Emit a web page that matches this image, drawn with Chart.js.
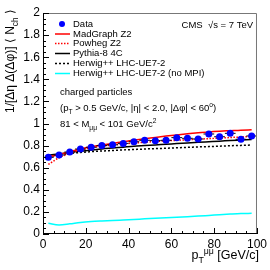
<!DOCTYPE html>
<html>
<head>
<meta charset="utf-8">
<script src="https://cdn.jsdelivr.net/npm/chart.js@4.4.1/dist/chart.umd.min.js"></script>
<style>
  html, body { margin: 0; padding: 0; background: #fff; }
  #wrap { width: 270px; height: 270px; }
</style>
</head>
<body>
<div id="wrap"><canvas id="chart" width="270" height="270"></canvas></div>
<script>
// bin centres in pT(mumu), GeV/c
const binCenters = [2.5, 7.5, 12.5, 17.5, 22.5, 27.5, 32.5, 37.5, 42.5, 47.5,
                    52.5, 57.5, 62.5, 67.5, 72.5, 77.5, 82.5, 87.5, 92.5, 97.5];
const binHalfWidth = 2.5;

const dataValues = [0.694, 0.715, 0.742, 0.769, 0.785, 0.800, 0.807, 0.820, 0.835, 0.848,
                    0.845, 0.848, 0.872, 0.866, 0.860, 0.905, 0.880, 0.911, 0.857, 0.887];
const madgraphZ2 = [0.700, 0.720, 0.745, 0.770, 0.790, 0.805, 0.820, 0.835, 0.850, 0.862,
                    0.874, 0.886, 0.897, 0.907, 0.916, 0.924, 0.930, 0.935, 0.940, 0.943];
const powhegZ2 = [0.630, 0.690, 0.730, 0.760, 0.780, 0.795, 0.805, 0.815, 0.823, 0.830,
                  0.837, 0.843, 0.848, 0.853, 0.858, 0.863, 0.868, 0.873, 0.878, 0.883];
const pythia84C = [0.712, 0.725, 0.738, 0.750, 0.760, 0.770, 0.778, 0.786, 0.794, 0.800,
                   0.806, 0.812, 0.818, 0.824, 0.830, 0.835, 0.840, 0.846, 0.851, 0.856];
const herwigUE72 = [0.700, 0.715, 0.728, 0.738, 0.745, 0.751, 0.756, 0.761, 0.765, 0.769,
                    0.773, 0.776, 0.780, 0.784, 0.788, 0.791, 0.795, 0.799, 0.802, 0.805];
const herwigNoMPI = [0.097, 0.082, 0.092, 0.105, 0.113, 0.118, 0.122, 0.127, 0.132, 0.137,
                     0.142, 0.147, 0.152, 0.157, 0.162, 0.168, 0.174, 0.180, 0.185, 0.187];

const xTicks = [0, 20, 40, 60, 80, 100];
const yTicks = [0, 0.2, 0.4, 0.6, 0.8, 1, 1.2, 1.4, 1.6, 1.8, 2];

const legendLabels = ["Data", "MadGraph Z2", "Powheg Z2", "Pythia-8 4C",
                      "Herwig++ LHC-UE7-2", "Herwig++ LHC-UE7-2 (no MPI)"];

const FONT = "'Liberation Sans', Arial, sans-serif";

function toPoints(vals) {
    return binCenters.map((x, i) => ({ x: x, y: vals[i] }));
}

function curve(label, vals, color, dash) {
    return {
        label: label,
        data: toPoints(vals),
        borderColor: color,
        backgroundColor: color,
        borderWidth: 1.5,
        borderDash: dash,
        pointRadius: 0,
        tension: 0.4,
        cubicInterpolationMode: 'monotone',
        fill: false
    };
}

// draws text made of pieces: [text, 'n' | 'sub' | 'sup']
function richText(ctx, pieces, x, y, size) {
    let cx = x;
    for (const [t, mode] of pieces) {
        let s = size, dy = 0;
        if (mode === 'sub') { s = size * 0.7; dy = size * 0.3; }
        if (mode === 'sup') { s = size * 0.7; dy = -size * 0.4; }
        ctx.font = s + "px " + FONT;
        ctx.fillText(t, cx, y + dy);
        cx += ctx.measureText(t).width;
    }
    return cx - x;
}
function richWidth(ctx, pieces, size) {
    let w = 0;
    for (const [t, mode] of pieces) {
        const s = mode === 'n' ? size : size * 0.7;
        ctx.font = s + "px " + FONT;
        w += ctx.measureText(t).width;
    }
    return w;
}

const errorBars = {
    id: 'errorBars',
    afterDatasetsDraw(chart) {
        const ctx = chart.ctx, xs = chart.scales.x, ys = chart.scales.y;
        ctx.save();
        ctx.strokeStyle = '#000';
        ctx.lineWidth = 1;
        binCenters.forEach((x, i) => {
            const py = ys.getPixelForValue(dataValues[i]);
            ctx.beginPath();
            ctx.moveTo(xs.getPixelForValue(x - binHalfWidth), py);
            ctx.lineTo(xs.getPixelForValue(x + binHalfWidth), py);
            ctx.stroke();
        });
        // redraw markers on top of bars
        ctx.fillStyle = '#0000ff';
        binCenters.forEach((x, i) => {
            ctx.beginPath();
            ctx.arc(xs.getPixelForValue(x), ys.getPixelForValue(dataValues[i]), 3.5, 0, Math.PI * 2);
            ctx.fill();
        });
        ctx.restore();
    }
};

const decorations = {
    id: 'decorations',
    afterDraw(chart) {
        const ctx = chart.ctx, a = chart.chartArea;
        const xs = chart.scales.x, ys = chart.scales.y;
        ctx.save();

        // frame
        ctx.lineWidth = 1;
        ctx.strokeStyle = '#777';
        ctx.beginPath();
        ctx.moveTo(a.left, a.top + 0.5); ctx.lineTo(a.right - 0.5, a.top + 0.5);
        ctx.lineTo(a.right - 0.5, a.bottom);
        ctx.stroke();
        ctx.strokeStyle = '#000';
        ctx.beginPath();
        ctx.moveTo(a.left + 0.5, a.top); ctx.lineTo(a.left + 0.5, a.bottom - 0.5);
        ctx.lineTo(a.right, a.bottom - 0.5);
        ctx.stroke();

        // inward ticks
        for (let v = 0; v <= 100.001; v += 5) {
            const px = Math.round(xs.getPixelForValue(v)) + 0.5;
            const len = (Math.round(v) % 20 === 0) ? 6 : 3;
            ctx.beginPath(); ctx.moveTo(px, a.bottom); ctx.lineTo(px, a.bottom - len); ctx.stroke();
        }
        for (let k = 0; k <= 40; k++) {
            const py = Math.round(ys.getPixelForValue(k * 0.05)) + 0.5;
            const len = (k % 4 === 0) ? 6 : 3;
            ctx.beginPath(); ctx.moveTo(a.left, py); ctx.lineTo(a.left + len, py); ctx.stroke();
        }

        // legend
        const ds = chart.data.datasets;
        const legY = [24, 34, 43.5, 53.5, 63.5, 73.5];
        ctx.textBaseline = 'middle';
        ctx.fillStyle = '#000';
        legendLabels.forEach((lab, i) => {
            const y = legY[i];
            if (i === 0) {
                ctx.fillStyle = '#0000ff';
                ctx.beginPath(); ctx.arc(62, y, 3, 0, Math.PI * 2); ctx.fill();
            } else {
                const d = ds[i];
                ctx.strokeStyle = d.borderColor;
                ctx.lineWidth = 1.5;
                ctx.setLineDash(d.borderDash || []);
                ctx.beginPath(); ctx.moveTo(55, y); ctx.lineTo(70, y); ctx.stroke();
                ctx.setLineDash([]);
            }
            ctx.fillStyle = '#000';
            ctx.font = "9.5px " + FONT;
            ctx.fillText(lab, 73, y);
        });

        // CMS label
        ctx.textBaseline = 'alphabetic';
        ctx.font = "9.5px " + FONT;
        const cms = [['CMS  ', 'n'], ['\u221As = 7 TeV', 'n']];
        const cw = richWidth(ctx, cms, 9.5);
        richText(ctx, cms, 253 - cw, 28, 9.5);

        // selection text
        richText(ctx, [['charged particles', 'n']], 60, 95, 9.5);
        richText(ctx, [['(p', 'n'], ['T', 'sub'], [' > 0.5 GeV/c, |\u03B7| < 2.0, |\u0394\u03C6| < 60', 'n'], ['o', 'sup'], [')', 'n']], 60, 111, 9.5);
        richText(ctx, [['81 < M', 'n'], ['\u03BC\u03BC', 'sub'], [' < 101 GeV/c', 'n'], ['2', 'sup']], 60, 127, 9.5);

        // x title
        const xt = [['p', 'n'], ['T', 'sub'], ['\u03BC\u03BC', 'sup'], [' [GeV/c]', 'n']];
        const xw = richWidth(ctx, xt, 12.5);
        richText(ctx, xt, 259 - xw, 259, 12.5);

        // y title (rotated)
        const yt = [['1/[\u0394\u03B7 \u0394(\u0394\u03C6)] \u27E8 N', 'n'], ['ch', 'sub'], [' \u27E9', 'n']];
        const yw = richWidth(ctx, yt, 12);
        ctx.translate(14, 9 + yw);
        ctx.rotate(-Math.PI / 2);
        richText(ctx, yt, 0, 0, 12);

        ctx.restore();
    }
};

new Chart(document.getElementById('chart'), {
    type: 'line',
    data: {
        datasets: [
            {
                label: legendLabels[0],
                data: toPoints(dataValues),
                showLine: false,
                pointRadius: 0,
                borderColor: '#0000ff',
                backgroundColor: '#0000ff'
            },
            curve(legendLabels[1], madgraphZ2, '#ff0000', []),
            curve(legendLabels[2], powhegZ2, '#ff0000', [1.5, 1.5]),
            curve(legendLabels[3], pythia84C, '#000000', []),
            curve(legendLabels[4], herwigUE72, '#000000', [2, 2]),
            curve(legendLabels[5], herwigNoMPI, '#00ffff', [])
        ]
    },
    options: {
        responsive: false,
        animation: false,
        layout: { padding: { top: 13, right: 11, left: 0, bottom: 0 } },
        plugins: { legend: { display: false }, tooltip: { enabled: false } },
        scales: {
            x: {
                type: 'linear',
                min: 0, max: 100,
                afterFit: s => { s.height = 36; },
                afterBuildTicks: s => { s.ticks = xTicks.map(v => ({ value: v })); },
                grid: { display: false, drawTicks: false },
                border: { display: false },
                ticks: { color: '#000', font: { family: FONT, size: 12 }, padding: 3, maxRotation: 0 }
            },
            y: {
                min: 0, max: 2,
                afterFit: s => { s.width = 43; },
                afterBuildTicks: s => { s.ticks = yTicks.map(v => ({ value: v })); },
                grid: { display: false, drawTicks: false },
                border: { display: false },
                ticks: {
                    color: '#000', font: { family: FONT, size: 12 }, padding: 3,
                    callback: v => (v === 0 || v === 1 || v === 2) ? String(v) : v.toFixed(1)
                }
            }
        }
    },
    plugins: [errorBars, decorations]
});
</script>
</body>
</html>
